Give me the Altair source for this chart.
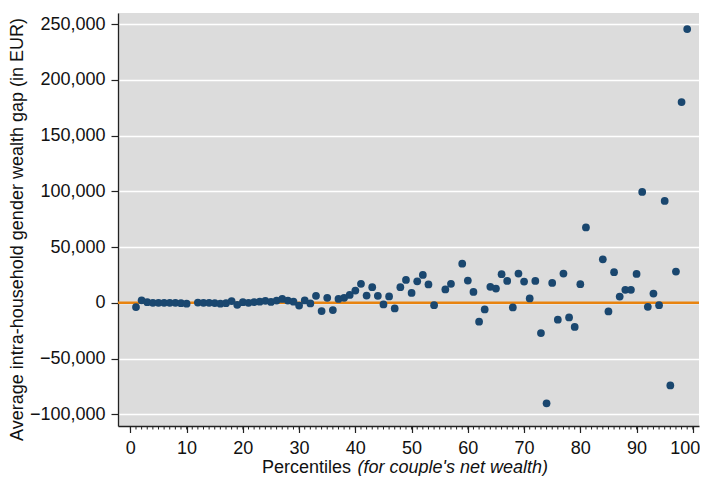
import altair as alt
import pandas as pd

percentiles = [1, 2, 3, 4, 5, 6, 7, 8, 9, 10,
               12, 13, 14, 15, 16, 17, 18, 19, 20,
               21, 22, 23, 24, 25, 26, 27, 28, 29, 30,
               31, 32, 33, 34, 35, 36, 37, 38, 39, 40,
               41, 42, 43, 44, 45, 46, 47, 48, 49, 50,
               51, 52, 53, 54, 56, 57, 59, 60,
               61, 62, 63, 64, 65, 66, 67, 68, 69, 70,
               71, 72, 73, 74, 75, 76, 77, 78, 79, 80,
               81, 84, 85, 86, 87, 88, 89, 90,
               91, 92, 93, 94, 95, 96, 97, 98, 99]
gap_eur = [-3800, 2200, 500, 0, 0, 0, 0, 0, -300, -800,
           200, 0, 0, -200, -800, -300, 1500, -1800, 500,
           0, 600, 1000, 1800, 800, 2000, 3500, 2000, 1000, -2500,
           2100, -600, 6300, -7400, 4500, -6500, 3500, 4500, 7000, 11000,
           17000, 6500, 14000, 6300, -1500, 5700, -5100, 14000, 20500, 8800,
           19300, 25000, 16500, -2100, 12000, 17000, 35100, 19900,
           9700, -17000, -6000, 14300, 12800, 25600, 19600, -4200, 26200, 19000,
           3900, 19600, -27100, -90200, 17800, -15200, 26200, -13100, -21700, 16700,
           67600, 39000, -7700, 27400, 5600, 11600, 11600, 25900,
           99400, -3600, 8300, -2100, 91400, -74100, 28000, 180000, 245500]

zero_line = [0]
x_major_ticks = [0, 10, 20, 30, 40, 50, 60, 70, 80, 90, 100]
x_minor_ticks = list(range(0, 101))
y_ticks = [-100000, -50000, 0, 50000, 100000, 150000, 200000, 250000]

x_title_main = "Percentiles"
x_title_italic = "(for couple's net wealth)"
y_title = "Average intra-household gender wealth gap (in EUR)"

FONT = "Liberation Sans"
W, H = 581, 413

df = pd.DataFrame({"p": percentiles, "gap": gap_eur})

x_scale = alt.Scale(domain=[-2.2, 101.1], nice=False, zero=False)
y_scale = alt.Scale(domain=[-110500, 259900], nice=False, zero=False)

x_axis = alt.Axis(values=x_major_ticks, format="d", tickSize=6.5, labelPadding=7,
                  title=None, grid=False, labelFontSize=18, labelFont=FONT,
                  labelColor="#111111", domainColor="#222222", tickColor="#222222",
                  domainWidth=1.3, tickWidth=1.2, labelFlush=False,
                  labelOffset={"condition": {"test": "datum.value >= 100", "value": -8},
                               "value": 0})
y_axis = alt.Axis(values=y_ticks, format=",.0f", tickSize=7, labelPadding=6,
                  grid=True, gridColor="white", gridWidth=1.5,
                  labelFontSize=18, labelFont=FONT, labelColor="#111111",
                  domainColor="#222222", tickColor="#222222",
                  domainWidth=1.3, tickWidth=1.2,
                  title=y_title, titleFont=FONT, titleFontSize=18,
                  titleFontWeight="normal", titleColor="#111111",
                  titleAngle=270, titleAlign="center", titleBaseline="middle",
                  titleX=-101, titleY=216, labelFlush=False)

points = alt.Chart(df).mark_circle(size=60, color="#1A476F", opacity=1).encode(
    x=alt.X("p:Q", scale=x_scale, axis=x_axis),
    y=alt.Y("gap:Q", scale=y_scale, axis=y_axis),
)

zero = alt.Chart(pd.DataFrame({"z": zero_line})).mark_rule(
    color="#E8830F", strokeWidth=2.6
).encode(y=alt.Y("z:Q", scale=y_scale))

minor = alt.Chart(pd.DataFrame({"m": x_minor_ticks})).mark_rule(
    color="#222222", strokeWidth=1
).encode(
    x=alt.X("m:Q", scale=x_scale),
    y=alt.value(H),
    y2=alt.value(H + 3.5),
)

title_main = alt.Chart(pd.DataFrame({"t": [x_title_main]})).mark_text(
    align="right", baseline="middle", font=FONT, fontSize=18, color="#111111"
).encode(text="t:N", x=alt.value(233), y=alt.value(455))

title_italic = alt.Chart(pd.DataFrame({"t": [x_title_italic]})).mark_text(
    align="left", baseline="middle", font=FONT, fontSize=18, fontStyle="italic",
    color="#111111"
).encode(text="t:N", x=alt.value(239.5), y=alt.value(455))

chart = alt.layer(zero, points, minor, title_main, title_italic).properties(
    width=W, height=H,
    autosize=alt.AutoSizeParams(type="none"),
    padding={"left": 110, "top": 5, "right": 1, "bottom": 50},
    background="white",
).configure_view(
    fill="#DCDCDC", stroke=None
)

chart.save("out.html", embed_options={"renderer": "svg", "actions": False})
